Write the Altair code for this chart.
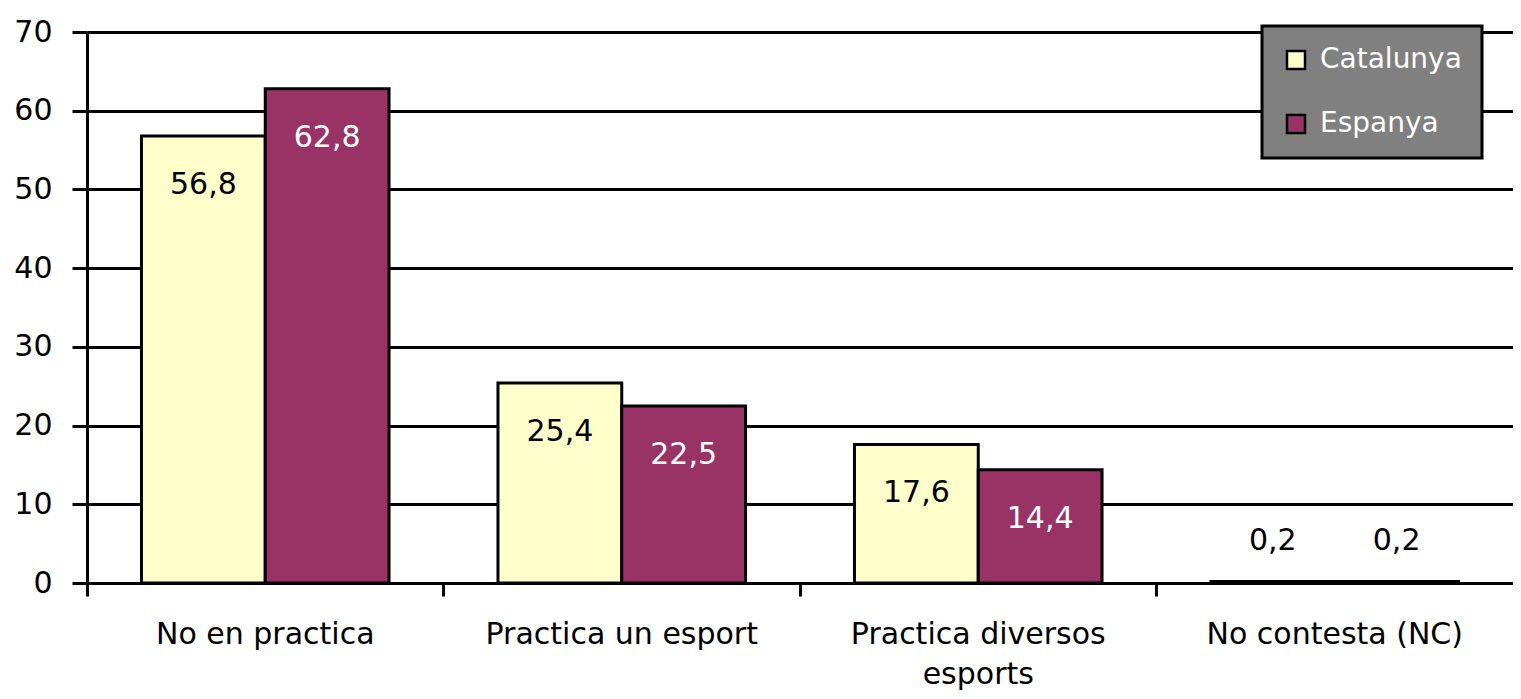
import altair as alt
import pandas as pd

categories = ["No en practica", "Practica un esport", "Practica diversos esports", "No contesta (NC)"]
series = ["Catalunya", "Espanya"]
catalunya = [56.8, 25.4, 17.6, 0.2]
espanya = [62.8, 22.5, 14.4, 0.2]
y_ticks = [0, 10, 20, 30, 40, 50, 60, 70]
colors = ["#FFFFCC", "#993366"]

rows = []
for c, a, b in zip(categories, catalunya, espanya):
    rows.append({"category": c, "series": "Catalunya", "value": a})
    rows.append({"category": c, "series": "Espanya", "value": b})
df = pd.DataFrame(rows)

FONT = "DejaVu Sans"

x_enc = alt.X(
    "category:N", sort=categories,
    scale=alt.Scale(paddingInner=0, paddingOuter=0),
    axis=alt.Axis(
        title=None, bandPosition=0, labelAngle=0,
        labelFontSize=30, labelFont=FONT, labelColor="black", labelLimit=400,
        tickSize=13, tickWidth=3, tickColor="black",
        domainColor="black", domainWidth=3, labelPadding=23,
        labelOverlap=False, grid=False, labelLineHeight=40,
        labelExpr="datum.value == 'Practica diversos esports' ? ['Practica diversos', 'esports'] : datum.label",
    ),
)
xoff_enc = alt.XOffset("series:N", sort=series, scale=alt.Scale(paddingOuter=0.44, paddingInner=0))
y_enc = alt.Y(
    "value:Q", scale=alt.Scale(domain=[0, 70], nice=False),
    axis=alt.Axis(
        title=None, values=y_ticks, grid=True, gridColor="black", gridWidth=3,
        tickSize=15, tickWidth=3, tickColor="black",
        domainColor="black", domainWidth=3,
        labelFontSize=30, labelFont=FONT, labelPadding=20, labelColor="black",
    ),
)

base = alt.Chart(df).encode(x=x_enc, xOffset=xoff_enc, y=y_enc)

bars = base.mark_bar(stroke="black", strokeWidth=3).encode(
    color=alt.Color(
        "series:N",
        scale=alt.Scale(domain=series, range=colors),
        legend=alt.Legend(
            title=None, orient="none", legendX=1175, legendY=-6,
            fillColor="#808080", strokeColor="black", padding=20,
            symbolType="square", symbolSize=324, symbolStrokeColor="black",
            symbolStrokeWidth=2.5, symbolOpacity=1,
            labelColor="white", labelFontSize=28, labelFont=FONT,
            rowPadding=36, labelOffset=10,
        ),
    )
)

label_calc = "replace(format(datum.value, '.1f'), '.', ',')"

inside = base.transform_filter("datum.value > 5").transform_calculate(
    lab=label_calc
).mark_text(dy=49, fontSize=30, font=FONT).encode(
    text="lab:N",
    color=alt.condition("datum.series == 'Espanya'", alt.value("white"), alt.value("black")),
)

above = base.transform_filter("datum.value <= 5").transform_calculate(
    lab=label_calc
).mark_text(dy=-40, fontSize=30, font=FONT, color="black").encode(text="lab:N")

chart = alt.layer(bars, inside, above).properties(
    width=1426, height=551,
    autosize=alt.AutoSizeParams(type="none"),
    padding={"left": 79, "top": 24, "right": 0, "bottom": 110},
    background="white",
).configure_view(strokeWidth=0).configure_legend(strokeWidth=3)

chart.save("out.html", embed_options={"renderer": "svg", "actions": False})
